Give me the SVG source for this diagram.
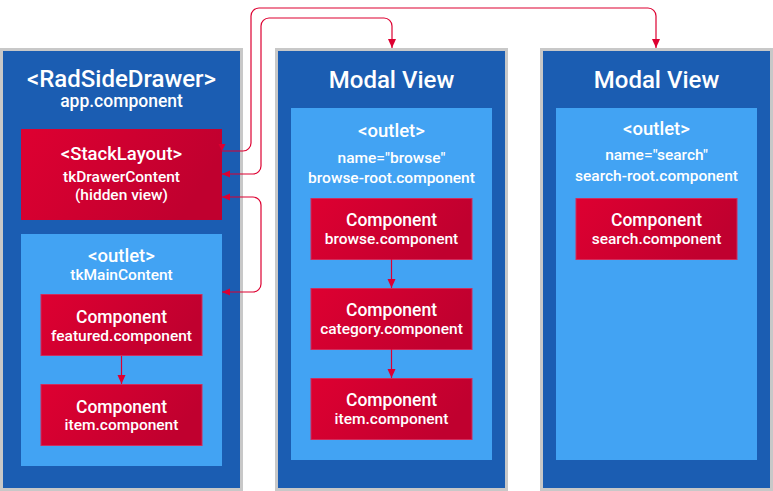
<svg xmlns="http://www.w3.org/2000/svg" width="773" height="491" viewBox="0 0 773 491">
<defs>
<linearGradient id="red" x1="0" y1="0" x2="1" y2="0.3">
<stop offset="0" stop-color="#de0031"/>
<stop offset="1" stop-color="#c0002f"/>
</linearGradient>
<marker id="ad" markerUnits="userSpaceOnUse" markerWidth="10" markerHeight="9" refX="9" refY="4" orient="auto">
<path d="M0,0 L9,4 L0,8 z" fill="#dd0031"/>
</marker>
<marker id="al" markerUnits="userSpaceOnUse" markerWidth="9" markerHeight="8" refX="8" refY="3.5" orient="auto-start-reverse">
<path d="M0,0 L8,3.5 L0,7 z" fill="#dd0031"/>
</marker>
<marker id="adn" markerUnits="userSpaceOnUse" markerWidth="9" markerHeight="8" refX="7" refY="3.5" orient="90">
<path d="M0,0 L7,3.5 L0,7 z" fill="#dd0031"/>
</marker>
</defs>
<style>
.panel{fill:#1b5db2;stroke:#c8c8c8;stroke-width:3}
.outlet{fill:#42a3f3}
.comp{fill:url(#red)}
.cb{fill:url(#red);stroke:#cf2d5c;stroke-width:1}
text{font-family:Roboto,"Liberation Sans",sans-serif;font-weight:500;fill:#ffffff;text-anchor:middle}
.t1{font-size:24px}
.t2{font-size:17.5px}
.t3{font-size:15.5px}
.t4{font-size:18.5px}
.conn{fill:none;stroke:#dd0031;stroke-width:1.2}
</style>
<rect width="773" height="491" fill="#ffffff"/>
<g id="rad-side-drawer">
<rect class="panel" x="1.5" y="49.5" width="240" height="440"/>
<text class="t1" x="121.5" y="87">&lt;RadSideDrawer&gt;</text>
<text class="t2" x="121.5" y="107">app.component</text>
</g>
<g id="stack-layout">
<rect class="comp" x="21" y="129" width="201" height="91"/>
<text class="t4" x="121.5" y="160">&lt;StackLayout&gt;</text>
<text class="t3" x="121.5" y="182">tkDrawerContent</text>
<text class="t3" x="121.5" y="200">(hidden view)</text>
</g>
<g id="main-outlet">
<rect class="outlet" x="21" y="234" width="201" height="232"/>
<text class="t4" x="121.5" y="262">&lt;outlet&gt;</text>
<text class="t3" x="121.5" y="280">tkMainContent</text>
</g>
<g id="featured-component">
<rect class="cb" x="41" y="294.5" width="161" height="61"/>
<text class="t2" x="121.5" y="323">Component</text>
<text class="t3" x="121.5" y="340.5">featured.component</text>
</g>
<g id="item-component-left">
<rect class="cb" x="41" y="384.5" width="161" height="61"/>
<text class="t2" x="121.5" y="413">Component</text>
<text class="t3" x="121.5" y="430">item.component</text>
</g>
<g id="modal-browse">
<rect class="panel" x="276.5" y="49.5" width="230" height="440"/>
<text class="t1" x="391.5" y="88">Modal View</text>
</g>
<g id="browse-outlet">
<rect class="outlet" x="291" y="108" width="201" height="352"/>
<text class="t4" x="391.5" y="137">&lt;outlet&gt;</text>
<text class="t3" x="391.5" y="162.5">name="browse"</text>
<text class="t3" x="391.5" y="183">browse-root.component</text>
</g>
<g id="browse-component">
<rect class="cb" x="311" y="198.5" width="161" height="61"/>
<text class="t2" x="391.5" y="226">Component</text>
<text class="t3" x="391.5" y="244">browse.component</text>
</g>
<g id="category-component">
<rect class="cb" x="311" y="288.5" width="161" height="61"/>
<text class="t2" x="391.5" y="316">Component</text>
<text class="t3" x="391.5" y="334">category.component</text>
</g>
<g id="item-component-mid">
<rect class="cb" x="311" y="378.5" width="161" height="61"/>
<text class="t2" x="391.5" y="406">Component</text>
<text class="t3" x="391.5" y="424">item.component</text>
</g>
<g id="modal-search">
<rect class="panel" x="541.5" y="49.5" width="230" height="440"/>
<text class="t1" x="656.5" y="88">Modal View</text>
</g>
<g id="search-outlet">
<rect class="outlet" x="556" y="108" width="201" height="352"/>
<text class="t4" x="656.5" y="135">&lt;outlet&gt;</text>
<text class="t3" x="656.5" y="160">name="search"</text>
<text class="t3" x="656.5" y="180.5">search-root.component</text>
</g>
<g id="search-component">
<rect class="cb" x="576" y="198.5" width="161" height="61"/>
<text class="t2" x="656.5" y="226">Component</text>
<text class="t3" x="656.5" y="244">search.component</text>
</g>
<g id="connectors">
<path class="conn" marker-start="url(#adn)" marker-end="url(#ad)" d="M222,151 H243 A8,8 0 0 0 251,143 V16 A8,8 0 0 1 259,8 H648 A8,8 0 0 1 656,16 V48"/>
<path class="conn" marker-start="url(#al)" marker-end="url(#ad)" d="M222,174 H253 A8,8 0 0 0 261,166 V26 A8,8 0 0 1 269,18 H384 A8,8 0 0 1 392,26 V48"/>
<path class="conn" marker-start="url(#al)" marker-end="url(#al)" d="M222,197 H253 A8,8 0 0 1 261,205 V284 A8,8 0 0 1 253,292 H222"/>
<path class="conn" marker-end="url(#ad)" d="M121.5,356 V384"/>
<path class="conn" marker-end="url(#ad)" d="M391.5,259 V288"/>
<path class="conn" marker-end="url(#ad)" d="M391.5,349 V378"/>
</g>
</svg>
